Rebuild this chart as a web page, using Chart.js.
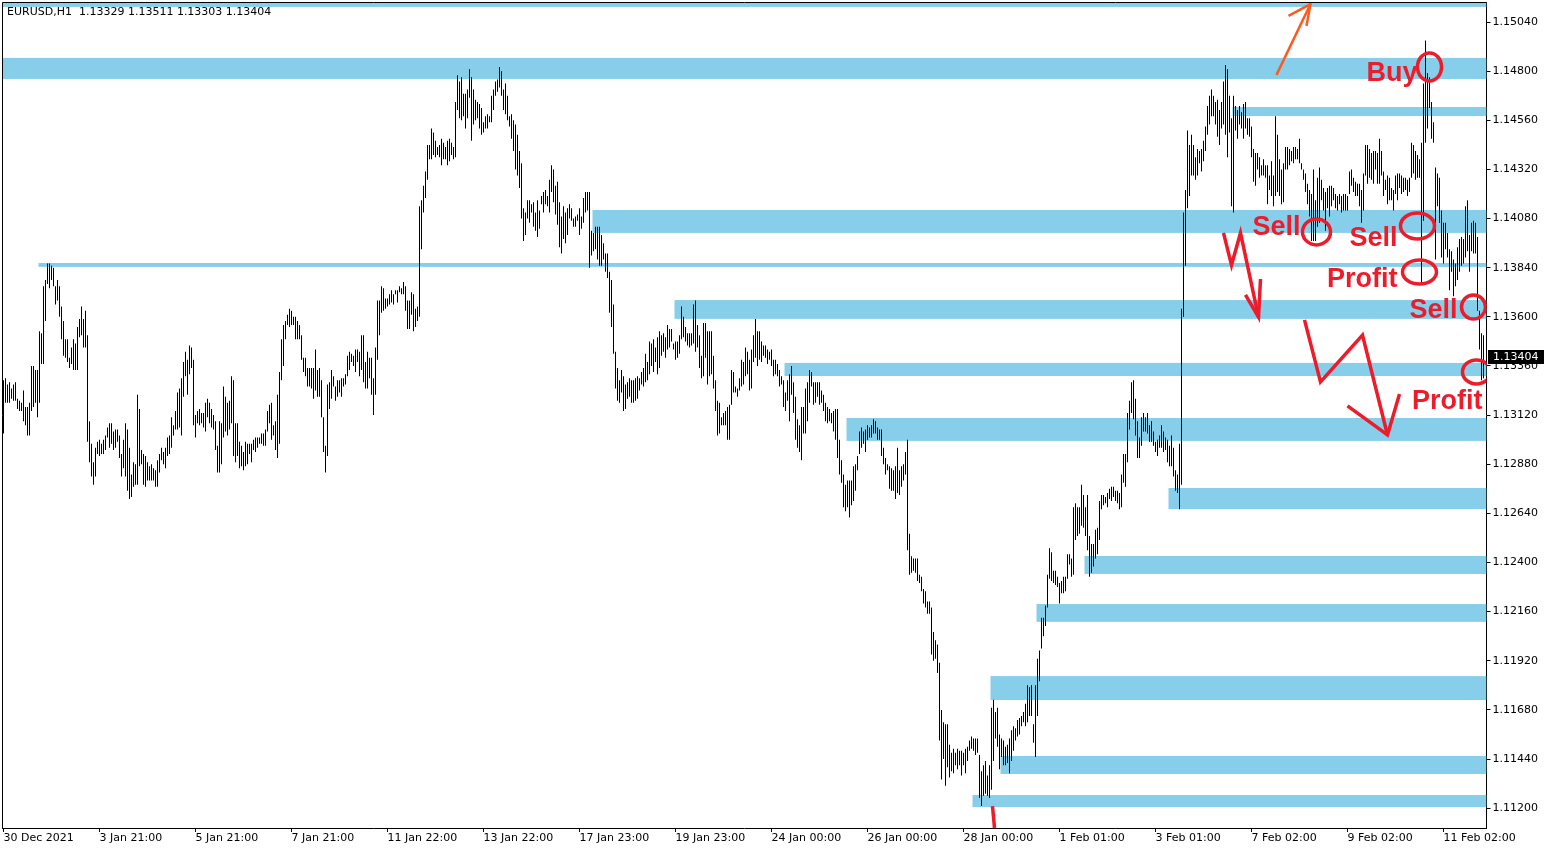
<!DOCTYPE html>
<html>
<head>
<meta charset="utf-8">
<title>EURUSD H1</title>
<script src="https://cdn.jsdelivr.net/npm/chart.js@4.4.1/dist/chart.umd.min.js"></script>
<style>
  html, body { margin: 0; padding: 0; background: #fff; }
  canvas { display: block; }
</style>
</head>
<body>
<canvas id="chart" width="1550" height="850"></canvas>
<script>
const symbolTitle = 'EURUSD,H1  1.13329 1.13511 1.13303 1.13404';
const lastClose = 1.13404;

// date labels, one every 48 hourly bars
const dateLabels = [
  '30 Dec 2021', '3 Jan 21:00', '5 Jan 21:00', '7 Jan 21:00', '11 Jan 22:00',
  '13 Jan 22:00', '17 Jan 23:00', '19 Jan 23:00', '24 Jan 00:00', '26 Jan 00:00',
  '28 Jan 00:00', '1 Feb 01:00', '3 Feb 01:00', '7 Feb 02:00', '9 Feb 02:00', '11 Feb 02:00'
];
const labelEvery = 48;
const barSlots = 742;

const priceTicks = [
  1.11200, 1.11440, 1.11680, 1.11920, 1.12160, 1.12400, 1.12640, 1.12880, 1.13120,
  1.13360, 1.13600, 1.13840, 1.14080, 1.14320, 1.14560, 1.14800, 1.15040
];
const priceMin = 1.11103;
const priceMax = 1.15138;

// hourly highs, bar 0 .. 740
const highs = [
  1.1329,1.1330,1.1327,1.1328,1.1325,1.1327,1.1328,1.1320,1.1319,1.1318,
  1.1324,1.1316,1.1316,1.1318,1.1336,1.1336,1.1334,1.1334,1.1353,1.1352,
  1.1375,1.1378,1.1386,1.1386,1.1385,1.1384,1.1375,1.1378,1.1375,1.1365,
  1.1358,1.1349,1.1349,1.1340,1.1345,1.1349,1.1347,1.1355,1.1359,1.1365,
  1.1359,1.1363,1.1351,1.1309,1.1298,1.1289,1.1296,1.1299,1.1300,1.1298,
  1.1300,1.1302,1.1306,1.1308,1.1308,1.1304,1.1305,1.1305,1.1302,1.1293,
  1.1300,1.1308,1.1305,1.1296,1.1283,1.1289,1.1288,1.1322,1.1315,1.1295,
  1.1293,1.1292,1.1289,1.1287,1.1288,1.1286,1.1285,1.1290,1.1293,1.1296,
  1.1294,1.1296,1.1301,1.1302,1.1311,1.1307,1.1314,1.1323,1.1325,1.1330,
  1.1338,1.1343,1.1339,1.1346,1.1345,1.1339,1.1312,1.1314,1.1315,1.1313,
  1.1313,1.1318,1.1320,1.1318,1.1315,1.1312,1.1309,1.1297,1.1309,1.1308,
  1.1326,1.1321,1.1318,1.1319,1.1331,1.1329,1.1308,1.1308,1.1299,1.1297,
  1.1294,1.1299,1.1298,1.1298,1.1298,1.1300,1.1301,1.1301,1.1301,1.1303,
  1.1303,1.1305,1.1314,1.1317,1.1318,1.1307,1.1309,1.1322,1.1333,1.1349,
  1.1356,1.1358,1.1361,1.1364,1.1363,1.1360,1.1360,1.1358,1.1356,1.1351,
  1.1340,1.1340,1.1335,1.1335,1.1335,1.1335,1.1344,1.1334,1.1335,1.1329,
  1.1311,1.1297,1.1327,1.1328,1.1334,1.1331,1.1326,1.1329,1.1329,1.1330,
  1.1330,1.1332,1.1341,1.1343,1.1342,1.1341,1.1344,1.1344,1.1343,1.1351,
  1.1351,1.1338,1.1343,1.1340,1.1340,1.1330,1.1345,1.1368,1.1368,1.1375,
  1.1374,1.1369,1.1369,1.1371,1.1373,1.1371,1.1373,1.1373,1.1375,
  1.1374,1.1377,1.1375,1.1368,1.1368,1.1372,1.1371,1.1364,1.1365,1.1414,
  1.1417,1.1424,1.1431,1.1444,1.1444,1.1452,1.1450,1.1446,1.1443,1.1444,
  1.1447,1.1445,1.1443,1.1446,1.1447,1.1445,1.1443,1.1465,1.1478,1.1475,
  1.1477,1.1469,1.1469,1.1471,1.1481,1.1477,1.1471,1.1466,1.1465,1.1464,
  1.1462,1.1455,1.1458,1.1459,1.1458,1.1468,1.1471,1.1475,1.1476,1.1482,
  1.1480,1.1471,1.1474,1.1468,1.1458,1.1459,1.1456,1.1454,1.1449,1.1441,
  1.1435,1.1413,1.1411,1.1417,1.1417,1.1415,1.1416,1.1411,1.1417,1.1412,
  1.1419,1.1421,1.1422,1.1419,1.1427,1.1434,1.1432,1.1424,1.1426,1.1416,
  1.1409,1.1414,1.1411,1.1413,1.1415,1.1413,1.1408,1.1409,1.1410,1.1413,
  1.1409,1.1418,1.1421,1.1421,1.1421,1.1402,1.1401,1.1404,1.1404,1.1404,
  1.1400,1.1396,1.1391,1.1391,1.1382,1.1378,1.1366,1.1343,1.1335,1.1329,
  1.1334,1.1331,1.1327,1.1328,1.1330,1.1329,1.1329,1.1330,1.1331,1.1330,
  1.1333,1.1335,1.1342,1.1338,1.1348,1.1347,1.1349,1.1345,1.1350,1.1353,
  1.1351,1.1352,1.1350,1.1356,1.1354,1.1354,1.1347,1.1348,1.1348,1.1351,
  1.1365,1.1360,1.1355,1.1352,1.1352,1.1352,1.1366,1.1368,1.1356,1.1351,
  1.1341,1.1357,1.1357,1.1353,
  1.1353,1.1353,1.1341,1.1329,1.1319,1.1318,1.1311,1.1313,1.1314,1.1316,
  1.1317,1.1334,1.1333,1.1326,1.1325,1.1330,1.1339,1.1338,1.1345,1.1343,
  1.1339,1.1344,1.1351,1.1359,1.1353,1.1353,1.1348,1.1346,1.1346,1.1344,
  1.1343,1.1344,1.1339,1.1339,1.1337,1.1334,1.1331,1.1329,1.1323,1.1329,
  1.1332,1.1336,1.1328,1.1321,1.1310,1.1307,1.1316,1.1316,1.1325,1.1328,
  1.1334,1.1333,1.1328,1.1328,1.1328,1.1328,1.1324,1.1322,1.1318,1.1316,
  1.1315,1.1313,1.1314,1.1315,1.1315,1.1300,1.1290,1.1283,1.1278,1.1280,
  1.1280,1.1280,1.1287,1.1288,1.1292,1.1304,1.1306,1.1304,1.1305,1.1307,
  1.1306,1.1307,1.1310,1.1309,1.1306,1.1305,1.1305,1.1296,1.1291,1.1288,
  1.1287,1.1286,1.1285,1.1287,1.1296,1.1285,1.1287,1.1288,1.1294,1.1300,
  1.1254,1.1243,1.1242,1.1242,1.1242,1.1234,1.1233,1.1227,1.1226,1.1221,
  1.1221,1.1218,1.1206,1.1202,1.1200,
  1.1191,1.1168,1.1162,1.1161,1.1161,1.1151,1.1147,1.1149,1.1147,1.1149,
  1.1148,1.1148,1.1147,1.1149,1.1150,1.1153,1.1155,1.1154,1.1154,1.1154,
  1.1146,1.1138,1.1141,1.1143,1.1136,1.1141,1.1169,1.1173,1.1167,1.1169,
  1.1156,1.1154,1.1153,1.1150,1.1151,1.1154,1.1158,1.1160,1.1159,1.1163,
  1.1164,1.1165,1.1167,
  1.1171,1.1180,1.1179,1.1180,1.1161,1.1180,1.1193,1.1197,1.1213,1.1213,
  1.1219,1.1234,1.1247,1.1245,1.1236,1.1236,1.1233,1.1230,1.1231,1.1233,
  1.1233,1.1244,1.1244,1.1242,1.1267,1.1269,1.1267,1.1267,1.1278,1.1273,
  1.1267,1.1273,1.1253,1.1249,1.1249,1.1256,1.1257,1.1270,1.1273,1.1273,
  1.1272,1.1274,1.1276,1.1277,1.1277,
  1.1275,1.1275,1.1274,1.1283,1.1293,1.1293,1.1313,1.1319,1.1328,1.1329,
  1.1320,1.1309,1.1301,1.1311,1.1313,1.1311,1.1313,1.1307,1.1309,1.1304,
  1.1299,1.1300,1.1302,1.1307,1.1304,1.1301,1.1300,1.1297,1.1302,1.1296,
  1.1285,1.1283,1.1298,1.1364,1.1411,1.1422,1.1451,1.1444,
  1.1449,1.1444,1.1438,1.1442,1.1441,1.1442,1.1446,1.1453,1.1463,1.1468,
  1.1471,1.1468,1.1465,1.1466,1.1461,1.1465,1.1475,1.1483,1.1481,1.1468,
  1.1457,1.1468,1.1463,1.1461,1.1463,1.1460,1.1464,1.1465,1.1457,1.1457,
  1.1453,1.1442,1.1440,1.1440,1.1438,1.1434,1.1437,1.1434,1.1434,1.1429,
  1.1436,1.1429,1.1458,1.1449,1.1437,1.1432,1.1435,1.1443,1.1443,1.1442,
  1.1441,1.1443,1.1443,1.1442,1.1447,1.1435,1.1432,1.1430,1.1425,1.1422,
  1.1420,1.1432,1.1417,1.1428,1.1433,1.1427,1.1423,1.1421,1.1423,1.1424,
  1.1424,1.1423,1.1420,1.1419,1.1420,1.1419,1.1420,1.1420,1.1419,1.1431,
  1.1432,1.1428,1.1426,1.1425,1.1425,1.1422,1.1430,1.1444,1.1444,1.1442,
  1.1440,1.1441,1.1441,1.1440,1.1447,1.1441,1.1431,1.1427,1.1429,1.1428,
  1.1423,1.1422,1.1429,1.1430,1.1430,1.1429,1.1428,1.1428,1.1427,1.1428,
  1.1445,1.1444,1.1441,1.1439,1.1437,1.1445,1.1474,1.1495,1.1479,1.1477,
  1.1465,1.1455,1.1433,1.1430,1.1428,1.1412,1.1406,1.1406,1.1401,1.1393,
  1.1392,1.1388,1.1386,1.1394,1.1398,1.1399,1.1398,1.1414,1.1417,1.1400,
  1.1406,1.1407,1.1406,1.1399,1.1363,1.1352,1.1351
];

// hourly lows, bar 0 .. 740
const lows = [
  1.1303,1.1318,1.1318,1.1318,1.1320,1.1319,1.1319,1.1315,1.1314,1.1314,
  1.1309,1.1307,1.1302,1.1302,1.1314,1.1316,1.1318,1.1311,1.1318,1.1337,
  1.1337,1.1358,1.1376,1.1374,1.1378,1.1375,1.1366,1.1368,1.1360,1.1349,
  1.1341,1.1340,1.1338,1.1335,1.1337,1.1334,1.1334,1.1334,1.1350,1.1351,
  1.1345,1.1345,1.1299,1.1289,1.1282,1.1278,1.1282,1.1293,1.1292,1.1293,
  1.1293,1.1295,1.1301,1.1296,1.1298,1.1295,1.1296,1.1299,1.1291,1.1282,
  1.1286,1.1282,1.1275,1.1271,1.1272,1.1277,1.1278,1.1278,1.1287,1.1288,
  1.1278,1.1277,1.1280,1.1280,1.1280,1.1280,1.1277,1.1277,1.1284,1.1290,
  1.1288,1.1286,1.1292,1.1293,1.1296,1.1302,1.1305,1.1305,1.1306,1.1302,
  1.1321,1.1331,1.1322,1.1332,1.1335,1.1307,1.1301,1.1308,1.1307,1.1308,
  1.1306,1.1304,1.1311,1.1308,1.1306,1.1305,1.1295,1.1284,1.1284,1.1288,
  1.1301,1.1304,1.1302,1.1305,1.1308,1.1292,1.1289,1.1292,1.1286,1.1287,
  1.1285,1.1287,1.1288,1.1293,1.1289,1.1295,1.1294,1.1296,1.1298,1.1298,
  1.1297,1.1297,1.1304,1.1308,1.1300,1.1302,1.1295,1.1291,1.1298,1.1329,
  1.1336,1.1349,1.1356,1.1355,1.1356,1.1356,1.1349,1.1349,1.1349,1.1339,
  1.1333,1.1331,1.1326,1.1326,1.1325,1.1320,1.1324,1.1321,1.1321,1.1311,
  1.1294,1.1284,1.1292,1.1315,1.1320,1.1326,1.1319,1.1321,1.1323,1.1321,
  1.1326,1.1327,1.1331,1.1334,1.1338,1.1336,1.1333,1.1338,1.1331,1.1334,
  1.1328,1.1325,1.1325,1.1330,1.1322,1.1312,1.1322,1.1339,1.1351,1.1362,
  1.1363,1.1364,1.1365,1.1366,1.1367,1.1366,1.1371,1.1367,1.1372,
  1.1371,1.1371,1.1363,1.1354,1.1354,1.1361,1.1353,1.1355,1.1358,1.1360,
  1.1393,1.1411,1.1418,1.1427,1.1437,1.1437,1.1439,1.1438,1.1439,1.1438,
  1.1434,1.1437,1.1437,1.1434,1.1436,1.1439,1.1437,1.1438,1.1461,1.1457,
  1.1456,1.1458,1.1452,1.1457,1.1467,1.1446,1.1454,1.1456,1.1457,1.1452,
  1.1449,1.1450,1.1452,1.1452,1.1455,1.1455,1.1461,1.1468,1.1470,1.1472,
  1.1468,1.1461,1.1459,1.1456,1.1453,1.1447,1.1441,1.1432,1.1429,1.1423,
  1.1408,1.1397,1.1400,1.1408,1.1406,1.1411,1.1404,1.1402,1.1399,1.1403,
  1.1415,1.1411,1.1415,1.1414,1.1411,1.1421,1.1416,1.1410,1.1405,1.1394,
  1.1391,1.1398,1.1396,1.1400,1.1408,1.1407,1.1404,1.1404,1.1407,1.1400,
  1.1403,1.1406,1.1411,1.1412,1.1384,1.1390,1.1392,1.1393,1.1388,1.1385,
  1.1385,1.1388,1.1382,1.1379,1.1362,1.1355,1.1342,1.1325,1.1319,1.1318,
  1.1323,1.1314,1.1315,1.1320,1.1321,1.1318,1.1318,1.1319,1.1320,1.1324,
  1.1327,1.1326,1.1328,1.1329,1.1332,1.1336,1.1333,1.1338,1.1332,1.1335,
  1.1341,1.1343,1.1340,1.1344,1.1345,1.1348,1.1344,1.1339,1.1340,1.1342,
  1.1349,1.1350,1.1348,1.1346,1.1345,1.1346,1.1347,1.1343,1.1345,1.1335,
  1.1330,1.1331,1.1340,1.1327,
  1.1331,1.1332,1.1325,1.1314,1.1302,1.1303,1.1307,1.1307,1.1307,1.1300,
  1.1300,1.1317,1.1323,1.1323,1.1321,1.1324,1.1326,1.1327,1.1331,1.1332,
  1.1324,1.1325,1.1338,1.1340,1.1336,1.1339,1.1338,1.1341,1.1340,1.1337,
  1.1339,1.1336,1.1331,1.1332,1.1331,1.1326,1.1327,1.1316,1.1314,1.1319,
  1.1309,1.1322,1.1313,1.1300,1.1296,1.1294,1.1290,1.1303,1.1303,1.1309,
  1.1318,1.1326,1.1317,1.1318,1.1321,1.1317,1.1318,1.1314,1.1309,1.1308,
  1.1309,1.1308,1.1304,1.1300,1.1291,1.1283,1.1279,1.1267,1.1265,1.1267,
  1.1262,1.1268,1.1270,1.1275,1.1285,1.1293,1.1296,1.1298,1.1294,1.1300,
  1.1301,1.1301,1.1303,1.1303,1.1300,1.1300,1.1292,1.1288,1.1283,1.1285,
  1.1276,1.1275,1.1275,1.1271,1.1274,1.1273,1.1277,1.1280,1.1283,1.1246,
  1.1234,1.1235,1.1236,1.1235,1.1231,1.1230,1.1226,1.1220,1.1218,1.1215,
  1.1215,1.1195,1.1192,1.1193,1.1186,
  1.1153,1.1134,1.1144,1.1131,1.1140,1.1135,1.1138,1.1137,1.1141,1.1139,
  1.1141,1.1136,1.1141,1.1137,1.1143,1.1148,1.1149,1.1148,1.1146,1.1147,
  1.1125,1.1121,1.1126,1.1127,1.1126,1.1125,1.1129,1.1143,1.1154,1.1150,
  1.1139,1.1145,1.1141,1.1141,1.1142,1.1137,1.1143,1.1148,1.1153,1.1155,
  1.1156,1.1160,1.1162,
  1.1160,1.1162,1.1165,1.1165,1.1152,1.1145,1.1165,1.1182,1.1198,1.1204,
  1.1209,1.1218,1.1232,1.1231,1.1230,1.1229,1.1228,1.1220,1.1225,1.1225,
  1.1226,1.1232,1.1239,1.1233,1.1234,1.1251,1.1253,1.1254,1.1258,1.1257,
  1.1253,1.1246,1.1233,1.1235,1.1238,1.1242,1.1244,1.1251,1.1266,1.1268,
  1.1269,1.1267,1.1271,1.1270,1.1272,
  1.1270,1.1269,1.1266,1.1267,1.1279,1.1277,1.1289,1.1305,1.1313,1.1310,
  1.1302,1.1291,1.1291,1.1297,1.1304,1.1304,1.1303,1.1299,1.1299,1.1297,
  1.1294,1.1292,1.1296,1.1296,1.1294,1.1295,1.1289,1.1287,1.1287,1.1282,
  1.1275,1.1274,1.1266,1.1278,1.1360,1.1385,1.1413,1.1419,
  1.1429,1.1429,1.1427,1.1429,1.1435,1.1431,1.1436,1.1441,1.1449,1.1454,
  1.1458,1.1458,1.1454,1.1448,1.1444,1.1452,1.1454,1.1449,1.1438,1.1450,
  1.1414,1.1411,1.1451,1.1447,1.1454,1.1452,1.1447,1.1452,1.1449,1.1448,
  1.1438,1.1426,1.1424,1.1432,1.1428,1.1429,1.1429,1.1428,1.1415,1.1422,
  1.1419,1.1414,1.1419,1.1421,1.1419,1.1415,1.1416,1.1432,1.1432,1.1434,
  1.1436,1.1435,1.1437,1.1437,1.1435,1.1432,1.1427,1.1421,1.1415,1.1409,
  1.1397,1.1397,1.1397,1.1404,1.1406,1.1417,1.1412,1.1402,1.1413,1.1409,
  1.1414,1.1417,1.1413,1.1412,1.1415,1.1411,1.1412,1.1412,1.1412,1.1420,
  1.1424,1.1421,1.1419,1.1419,1.1414,1.1406,1.1412,1.1429,1.1425,1.1428,
  1.1427,1.1425,1.1432,1.1425,1.1425,1.1429,1.1419,1.1422,1.1415,1.1417,
  1.1417,1.1412,1.1420,1.1417,1.1423,1.1420,1.1421,1.1422,1.1419,1.1421,
  1.1428,1.1430,1.1427,1.1428,1.1428,1.1376,1.1407,1.1445,1.1452,1.1462,
  1.1447,1.1445,1.1388,1.1414,1.1406,1.1389,1.1386,1.1393,1.1389,1.1373,
  1.1382,1.1370,1.1375,1.1378,1.1382,1.1385,1.1386,1.1389,1.1392,1.1382,
  1.1392,1.1391,1.1391,1.1363,1.1344,1.1329,1.1330
];

// support / resistance zones: first bar, upper price, lower price
const zoneStart = [0, 0, 615, 295, 18, 336, 391, 422, 583, 541, 517, 494, 499, 485];
const zoneHigh = [1.15141, 1.14865, 1.14625, 1.14122, 1.13863, 1.13682, 1.13375, 1.13106, 1.12764, 1.12432, 1.12197, 1.11845, 1.11455, 1.11264];
const zoneLow = [1.15114, 1.14762, 1.14581, 1.14010, 1.13844, 1.13590, 1.13311, 1.12994, 1.12661, 1.12344, 1.12110, 1.11728, 1.11367, 1.11205];

// hand drawn marks, in bar / price
const noteText = ['Buy', 'Sell', 'Sell', 'Profit', 'Sell', 'Profit'];
const noteBar = [707, 648.5, 697, 697, 727, 739.5];
const notePrice = [1.14752, 1.14001, 1.13946, 1.13746, 1.13594, 1.13150];
const ringBar = [713, 656.5, 707, 708, 735, 736.5];
const ringPrice = [1.14821, 1.14015, 1.14044, 1.13819, 1.13648, 1.13331];
const ringSize = [[12, 14], [14, 13], [17, 13], [17, 12], [12, 12], [14, 12]];

const redPaths = [
  [[610, 1.14010], [614, 1.13853], [618.5, 1.14010], [627.5, 1.13599]],
  [[621, 1.13707], [627.5, 1.13599], [628.5, 1.13785]],
  [[650.5, 1.13585], [658.5, 1.13282], [679.5, 1.13511], [692, 1.13023]],
  [[672, 1.13165], [692, 1.13023], [698, 1.13223]],
  [[494.5, 1.11210], [495.5, 1.11103]]
];
const orangePaths = [
  [[636.5, 1.14782], [653.5, 1.15128]],
  [[642.5, 1.15070], [653.5, 1.15128], [651.5, 1.15021]]
];

const zoneColor = '#87ceeb';
const markRed = '#ec1c2a';
const markOrange = '#ff5a1e';
const axisFont = { family: 'DejaVu Sans', size: 11 };

const barLabels = Array.from({ length: barSlots }, (_, i) =>
  i % labelEvery === 0 && dateLabels[i / labelEvery] ? dateLabels[i / labelEvery] : '');

const overlay = {
  id: 'overlay',
  beforeDatasetsDraw(chart) {
    const { ctx, chartArea: a, scales: { x, y } } = chart;
    ctx.save();
    ctx.beginPath();
    ctx.rect(a.left, a.top, a.width, a.height);
    ctx.clip();
    ctx.fillStyle = zoneColor;
    zoneStart.forEach((s, i) => {
      const top = y.getPixelForValue(zoneHigh[i]);
      const bot = y.getPixelForValue(zoneLow[i]);
      const left = x.getPixelForValue(s) - 1;
      ctx.fillRect(left, top, a.right - left, bot - top);
    });
    ctx.restore();
  },
  afterDatasetsDraw(chart) {
    const { ctx, chartArea: a, scales: { x, y } } = chart;
    const px = p => [x.getPixelForValue(p[0]), y.getPixelForValue(p[1])];
    const stroke = (path, color, w) => {
      ctx.strokeStyle = color;
      ctx.lineWidth = w;
      ctx.lineJoin = 'miter';
      ctx.lineCap = 'butt';
      ctx.beginPath();
      path.forEach((p, i) => {
        const [cx, cy] = px(p);
        if (i === 0) ctx.moveTo(cx, cy); else ctx.lineTo(cx, cy);
      });
      ctx.stroke();
    };
    ctx.save();
    ctx.beginPath();
    ctx.rect(a.left, a.top, a.width, a.height);
    ctx.clip();

    orangePaths.forEach(p => stroke(p, markOrange, 2.5));
    redPaths.forEach(p => stroke(p, markRed, 3.5));

    ctx.strokeStyle = markRed;
    ctx.lineWidth = 3.5;
    ringBar.forEach((b, i) => {
      const [cx, cy] = px([b, ringPrice[i]]);
      ctx.beginPath();
      ctx.ellipse(cx, cy, ringSize[i][0], ringSize[i][1], 0, 0, Math.PI * 2);
      ctx.stroke();
    });

    ctx.fillStyle = markRed;
    ctx.font = 'bold 27px "Liberation Sans", Arial, sans-serif';
    ctx.textAlign = 'right';
    ctx.textBaseline = 'alphabetic';
    noteText.forEach((t, i) => {
      const [tx, ty] = px([noteBar[i], notePrice[i]]);
      ctx.fillText(t, tx, ty);
    });
    ctx.restore();
  },
  afterDraw(chart) {
    const { ctx, chartArea: a, scales: { y } } = chart;
    ctx.save();
    // frame on the left and top
    ctx.strokeStyle = '#000';
    ctx.lineWidth = 1;
    ctx.beginPath();
    ctx.moveTo(Math.floor(a.left) + 0.5, a.bottom);
    ctx.lineTo(Math.floor(a.left) + 0.5, Math.floor(a.top) + 0.5);
    ctx.lineTo(a.right, Math.floor(a.top) + 0.5);
    ctx.stroke();

    // symbol line
    ctx.fillStyle = '#000';
    ctx.font = '11px "DejaVu Sans"';
    ctx.textAlign = 'left';
    ctx.textBaseline = 'middle';
    ctx.fillText(symbolTitle, 7, 12);

    // current price box
    const py = Math.round(y.getPixelForValue(lastClose));
    ctx.fillStyle = '#000';
    ctx.fillRect(Math.round(a.right) + 1, py - 7, 56, 14);
    ctx.fillStyle = '#fff';
    ctx.fillText(lastClose.toFixed(5), Math.round(a.right) + 6, py);
    ctx.restore();
  }
};

new Chart(document.getElementById('chart'), {
  type: 'bar',
  data: {
    labels: barLabels,
    datasets: [{
      data: highs.map((h, i) => [lows[i], h]),
      backgroundColor: '#000',
      borderWidth: 0,
      barThickness: 1,
      inflateAmount: 0
    }]
  },
  options: {
    responsive: false,
    devicePixelRatio: 1,
    animation: false,
    events: [],
    layout: { padding: { left: 2.5, top: 2, right: 0, bottom: 0 } },
    plugins: { legend: { display: false }, tooltip: { enabled: false } },
    scales: {
      x: {
        type: 'category',
        offset: true,
        grid: { display: true, offset: false, drawOnChartArea: false, drawTicks: true, tickLength: 4, color: '#000' },
        border: { display: true, color: '#000' },
        ticks: {
          autoSkip: false,
          maxRotation: 0,
          minRotation: 0,
          align: 'start',
          padding: 0,
          color: '#000',
          font: axisFont,
          callback: (v, i) => barLabels[i] || null
        },
        afterFit: s => { s.height = 22; s.paddingLeft = 0; s.paddingRight = 0; }
      },
      y: {
        position: 'right',
        min: priceMin,
        max: priceMax,
        afterBuildTicks: s => { s.ticks = priceTicks.map(v => ({ value: v })); },
        grid: { display: true, drawOnChartArea: false, drawTicks: true, tickLength: 4, color: '#000' },
        border: { display: true, color: '#000' },
        ticks: {
          padding: 2,
          color: '#000',
          font: axisFont,
          callback: v => Number(v).toFixed(5)
        },
        afterFit: s => { s.width = 63.5; s.paddingTop = 0; s.paddingBottom = 0; }
      }
    }
  },
  plugins: [overlay]
});
</script>
</body>
</html>
